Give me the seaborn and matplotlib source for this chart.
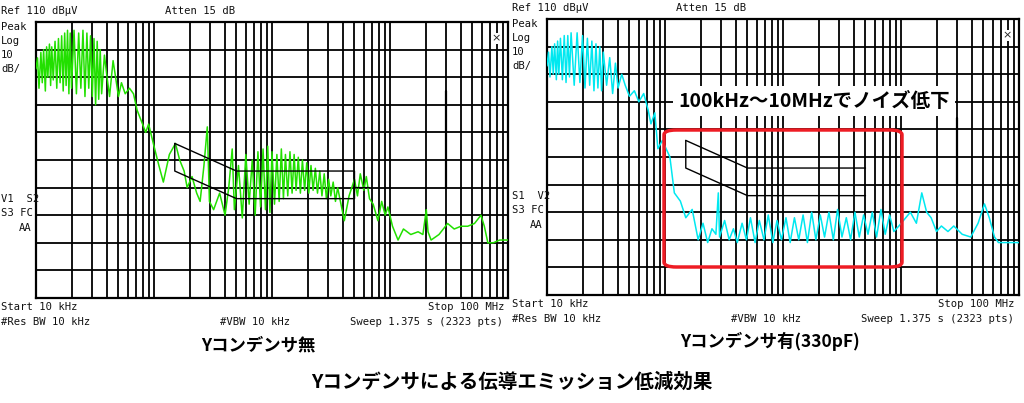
import pandas as pd
import matplotlib
matplotlib.use("Agg")
import matplotlib.pyplot as plt
from matplotlib.patches import FancyBboxPatch
import seaborn as sns

sns.set_theme(style="white")
plt.rcParams['font.family'] = ['Noto Sans CJK JP', 'DejaVu Sans']

# ---- data: (frequency kHz, level dBuV) ----
trace_no_cap = [
    (10, 93), (10.3, 97), (10.6, 86), (11, 99), (11.3, 88), (11.6, 100), (12, 85), (12.3, 101), (12.6, 90),
    (13, 102), (13.3, 87), (13.6, 101), (14, 89), (14.5, 103), (15, 86), (15.5, 104), (16, 88), (16.5, 105),
    (17, 85), (17.5, 106), (18, 87), (18.5, 107), (19, 84), (19.5, 106), (20, 86), (21, 107), (22, 84),
    (23, 106), (24, 86), (25, 107), (26, 83), (27, 106), (28, 86), (29, 105), (30, 83), (31, 104), (32, 80),
    (33, 103), (34, 82), (35, 100), (36, 84), (38, 98), (40, 90), (42, 83), (45, 96), (48, 88), (50, 83),
    (53, 88), (57, 84), (62, 86), (67, 84), (72, 78), (80, 73), (85, 70), (90, 73), (100, 65), (110, 58),
    (120, 52), (135, 62), (152, 66), (165, 60), (180, 56), (191, 50), (210, 54), (230, 48), (246, 45),
    (265, 58), (283, 72), (295, 45), (320, 42), (360, 48), (400, 40), (430, 50), (460, 64), (480, 42),
    (520, 58), (560, 39), (600, 62), (640, 44), (680, 60), (720, 40), (760, 63), (800, 43), (840, 64),
    (880, 42), (920, 65), (960, 41), (1000, 63), (1050, 44), (1100, 62), (1150, 45), (1200, 64), (1250, 46),
    (1300, 62), (1360, 47), (1420, 63), (1480, 48), (1540, 62), (1600, 49), (1670, 61), (1740, 48),
    (1810, 60), (1890, 49), (1970, 59), (2050, 48), (2140, 58), (2230, 49), (2330, 57), (2430, 48),
    (2540, 56), (2650, 47), (2770, 55), (2890, 46), (3020, 53), (3150, 47), (3300, 52), (3450, 45),
    (3600, 50), (4100, 38), (4500, 47), (5000, 53), (5300, 47), (5600, 55), (6000, 49), (6300, 54),
    (6700, 46), (7200, 44), (7900, 38), (8500, 45), (9100, 40), (9600, 43), (10500, 36), (11700, 31),
    (13000, 35), (15000, 33), (17300, 34), (19000, 33), (20300, 42), (21000, 34), (22300, 31), (26000, 33),
    (30800, 37), (35000, 35), (40000, 36), (45600, 36), (52000, 37), (59000, 40), (63000, 36), (67500, 30),
    (75000, 30), (85000, 31), (100000, 31),
]
trace_with_cap = [
    (10, 93), (10.3, 98), (10.6, 89), (11, 100), (11.3, 90), (11.6, 101), (12, 88), (12.3, 102), (12.6, 90),
    (13, 103), (13.5, 88), (14, 104), (14.5, 87), (15, 104), (15.5, 89), (16, 105), (17, 86), (18, 105),
    (19, 87), (20, 104), (21, 85), (22, 103), (23, 86), (24, 102), (25, 84), (26, 101), (27, 85), (28, 100),
    (29, 84), (30, 98), (32, 86), (34, 96), (36, 83), (38, 94), (40, 85), (43, 90), (46, 86), (50, 82),
    (55, 84), (60, 80), (66, 83), (72, 77), (76, 72), (82, 76), (87, 63), (95, 66), (110, 60), (120, 47),
    (135, 44), (150, 38), (170, 41), (191, 30), (210, 36), (230, 29), (250, 34), (270, 32), (283, 47),
    (290, 31), (320, 37), (350, 30), (380, 34), (410, 29), (450, 36), (490, 30), (530, 38), (580, 29),
    (630, 37), (690, 30), (750, 39), (820, 29), (890, 37), (970, 30), (1060, 38), (1150, 29), (1250, 38),
    (1360, 30), (1480, 39), (1610, 29), (1750, 40), (1900, 30), (2070, 39), (2250, 31), (2450, 40),
    (2670, 30), (2900, 41), (3160, 31), (3440, 38), (3740, 30), (4070, 40), (4430, 31), (4820, 39),
    (5250, 32), (5710, 40), (6210, 31), (6760, 41), (7350, 32), (8000, 39), (8700, 33), (9600, 35),
    (10500, 37), (12000, 40), (13500, 36), (15000, 47), (16500, 40), (18000, 38), (20000, 33), (22000, 35),
    (25000, 33), (28000, 35), (33000, 32), (39000, 31), (45000, 36), (51000, 43), (56000, 38), (62000, 31),
    (67000, 29), (75000, 29), (85000, 29), (100000, 29),
]
freq_no_cap = [p[0] for p in trace_no_cap]
level_no_cap = [p[1] for p in trace_no_cap]
freq_with_cap = [p[0] for p in trace_with_cap]
level_with_cap = [p[1] for p in trace_with_cap]

limit_qp_freq = [150, 500, 5000, 5000, 6700]
limit_qp_level = [66, 56, 56, 50, 50]
limit_av_freq = [150, 150, 500, 5000, 5000]
limit_av_level = [66, 56, 46, 46, 50]

W, H = 1024, 403
fig = plt.figure(figsize=(W / 100, H / 100), dpi=100)
fig.patch.set_facecolor("white")

mono = dict(family="DejaVu Sans Mono", fontsize=7.6, color="#111111")


def px(x, y):
    return x / W, 1 - y / H


def panel(x0, y0, freqs, levels, color, step_limits, vline_top):
    ax = fig.add_axes([x0 / W, 1 - (y0 + 276) / H, 472 / W, 276 / H])
    ax.set_xscale("log")
    ax.set_xlim(10, 100000)
    ax.set_ylim(10, 110)
    minor = [m * 10 ** e for e in range(1, 5) for m in range(1, 10)]
    for f in minor:
        ax.axvline(f, color="black", lw=1.3, zorder=1)
    for lv in range(20, 110, 10):
        ax.axhline(lv, color="black", lw=1.3, zorder=1)
    df = pd.DataFrame({"f": freqs, "dB": levels})
    sns.lineplot(data=df, x="f", y="dB", ax=ax, color=color, lw=1.1, zorder=3, sort=False)
    if step_limits:
        ax.plot(limit_qp_freq, limit_qp_level, color="black", lw=1.0, zorder=4)
        ax.plot(limit_av_freq, limit_av_level, color="black", lw=1.0, zorder=4)
    else:
        ax.plot(limit_qp_freq[:3], limit_qp_level[:3], color="black", lw=1.0, zorder=4)
        ax.plot(limit_av_freq[:4], limit_av_level[:4], color="black", lw=1.0, zorder=4)
    ax.plot([30000, 30000], [50, vline_top], color="black", lw=1.6, zorder=4)
    ax.text(80000, 104, "×", fontsize=8, ha="center", va="center", family="DejaVu Sans", zorder=5,
            bbox=dict(facecolor="white", edgecolor="none", pad=0.5))
    ax.set_xticks([]); ax.set_yticks([])
    ax.set_xlabel(""); ax.set_ylabel("")
    for s in ax.spines.values():
        s.set_color("black"); s.set_linewidth(1.6); s.set_visible(True)
    return ax


def labels(xo, yo, s1):
    fig.text(*px(xo + 1, yo + 11), "Ref 110 dBµV", va="center", **mono)
    fig.text(*px(xo + 165, yo + 11), "Atten 15 dB", va="center", **mono)
    for t, y in zip(["Peak", "Log", "10", "dB/"], [27, 41, 55, 69]):
        fig.text(*px(xo + 1, yo + y), t, va="center", **mono)
    fig.text(*px(xo + 1, yo + 199), s1, va="center", **mono)
    fig.text(*px(xo + 1, yo + 213), "S3 FC", va="center", **mono)
    fig.text(*px(xo + 32, yo + 228), "AA", va="center", ha="right", **mono)
    fig.text(*px(xo + 1, yo + 307), "Start 10 kHz", va="center", **mono)
    fig.text(*px(xo + 504, yo + 307), "Stop 100 MHz", va="center", ha="right", **mono)
    fig.text(*px(xo + 1, yo + 322), "#Res BW 10 kHz", va="center", **mono)
    fig.text(*px(xo + 220, yo + 322), "#VBW 10 kHz", va="center", **mono)
    fig.text(*px(xo + 503, yo + 322), "Sweep 1.375 s (2323 pts)", va="center", ha="right", **mono)


panel(36, 22, freq_no_cap, level_no_cap, "#22e000", True, 85)
labels(0, 0, "V1  S2")
panel(547, 19, freq_with_cap, level_with_cap, "#00e8f0", False, 74)
labels(511, -3, "S1  V2")

box = FancyBboxPatch((664 / W, 1 - 267 / H), (902 - 664) / W, (267 - 130) / H,
                     boxstyle="round,pad=0,rounding_size=0.012", transform=fig.transFigure,
                     fill=False, edgecolor="#ee1c24", lw=2.5, zorder=10)
fig.add_artist(box)
fig.text(*px(814, 101), "100kHz～10MHzでノイズ低下", ha="center", va="center", fontsize=14,
         fontweight="bold", color="black", zorder=11,
         bbox=dict(facecolor="white", edgecolor="none", pad=4))

jp = dict(fontweight="bold", color="black", ha="center", va="center")
fig.text(*px(258, 345), "Yコンデンサ無", fontsize=12.5, **jp)
fig.text(*px(770, 341), "Yコンデンサ有(330pF)", fontsize=12.5, **jp)
fig.text(*px(512, 382), "Yコンデンサによる伝導エミッション低減効果", fontsize=14, **jp)

fig.savefig("out.png", dpi=100, facecolor="white")
